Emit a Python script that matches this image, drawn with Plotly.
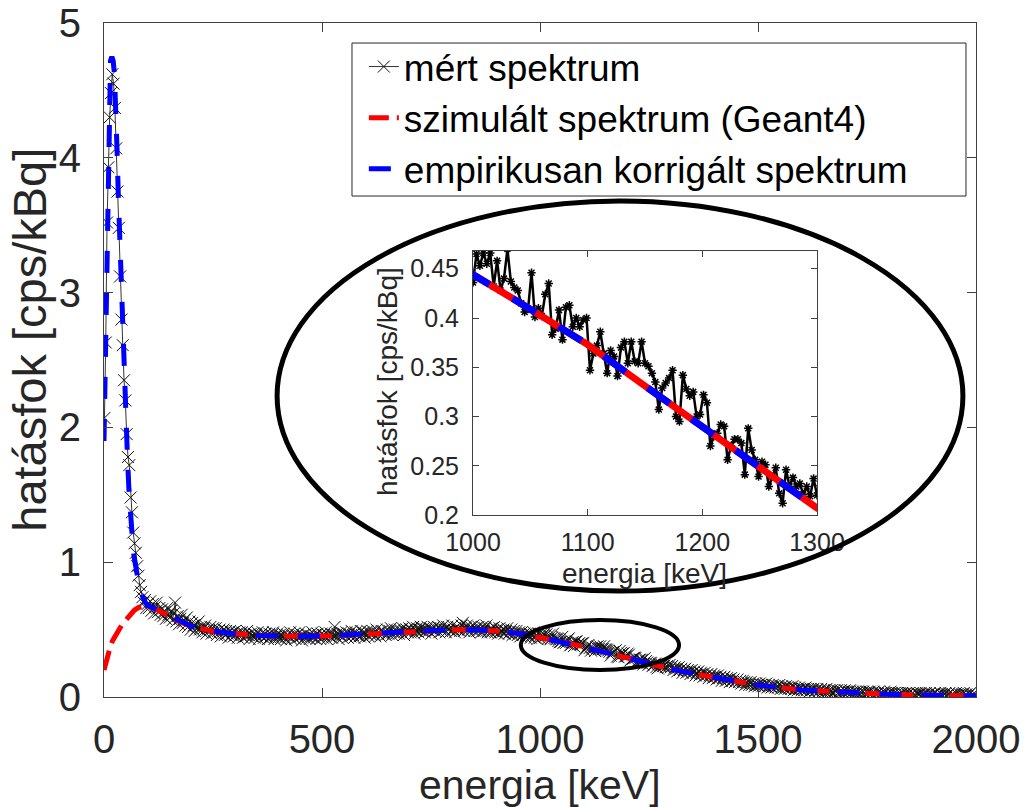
import plotly.graph_objects as go

# ---------------- data ----------------
# measured spectrum, 3 keV channels (1, 4, 7, ... 1999 keV)
measured_energy = list(range(1, 2000, 3))

measured_1_100 = [2.07, 2.63, 3.52, 3.93, 4.30, 4.48, 4.62, 4.55, 4.37, 4.07,
                  3.75, 3.48, 3.12, 2.80, 2.61, 2.35, 2.20, 1.95, 1.78, 1.72,
                  1.48, 1.37, 1.22, 1.14, 1.07, 0.97, 0.90, 0.83, 0.78, 0.74,
                  0.70, 0.72, 0.66, 0.69]

measured_103_1000 = [
    0.66, 0.71, 0.64, 0.69, 0.62, 0.67, 0.70, 0.63, 0.66, 0.61,
    0.65, 0.60, 0.63, 0.58, 0.66, 0.61, 0.59, 0.64, 0.57, 0.62,
    0.70, 0.56, 0.60, 0.54, 0.58, 0.61, 0.55, 0.57, 0.53, 0.59,
    0.52, 0.56, 0.50, 0.55, 0.53, 0.49, 0.54, 0.51, 0.56, 0.50,
    0.52, 0.48, 0.51, 0.53, 0.47, 0.50, 0.49, 0.52, 0.47, 0.51,
    0.48, 0.51, 0.46, 0.49, 0.50, 0.45, 0.48, 0.50, 0.46, 0.49,
    0.47, 0.44, 0.49, 0.46, 0.48, 0.45, 0.49, 0.47, 0.44, 0.48,
    0.46, 0.48, 0.44, 0.47, 0.45, 0.49, 0.46, 0.43, 0.47, 0.45,
    0.47, 0.44, 0.46, 0.48, 0.43, 0.46, 0.45, 0.48, 0.44, 0.47,
    0.45, 0.43, 0.47, 0.44, 0.46, 0.48, 0.43, 0.45, 0.47, 0.44,
    0.46, 0.43, 0.45, 0.47, 0.44, 0.42, 0.46, 0.45, 0.48, 0.43,
    0.45, 0.47, 0.43, 0.46, 0.44, 0.48, 0.45, 0.42, 0.46, 0.44,
    0.47, 0.44, 0.46, 0.43, 0.45, 0.48, 0.44, 0.46, 0.43, 0.47,
    0.45, 0.43, 0.47, 0.44, 0.46, 0.48, 0.43, 0.46, 0.45, 0.47,
    0.44, 0.46, 0.52, 0.45, 0.47, 0.43, 0.46, 0.48, 0.44, 0.47,
    0.46, 0.48, 0.44, 0.47, 0.45, 0.49, 0.46, 0.44, 0.48, 0.46,
    0.47, 0.45, 0.49, 0.46, 0.48, 0.44, 0.47, 0.49, 0.45, 0.48,
    0.46, 0.49, 0.47, 0.45, 0.50, 0.47, 0.48, 0.45, 0.49, 0.47,
    0.48, 0.46, 0.50, 0.47, 0.49, 0.51, 0.46, 0.48, 0.50, 0.47,
    0.49, 0.47, 0.50, 0.48, 0.51, 0.46, 0.49, 0.50, 0.48, 0.51,
    0.48, 0.50, 0.52, 0.47, 0.49, 0.51, 0.48, 0.50, 0.52, 0.49,
    0.51, 0.48, 0.50, 0.52, 0.49, 0.51, 0.47, 0.50, 0.52, 0.49,
    0.50, 0.52, 0.48, 0.51, 0.49, 0.53, 0.50, 0.48, 0.52, 0.50,
    0.51, 0.49, 0.53, 0.50, 0.48, 0.52, 0.50, 0.51, 0.49, 0.53,
    0.55, 0.49, 0.51, 0.53, 0.50, 0.48, 0.52, 0.50, 0.53, 0.49,
    0.51, 0.49, 0.52, 0.50, 0.48, 0.52, 0.49, 0.51, 0.53, 0.48,
    0.50, 0.48, 0.51, 0.49, 0.52, 0.48, 0.50, 0.47, 0.51, 0.49,
    0.48, 0.50, 0.47, 0.49, 0.51, 0.47, 0.48, 0.50, 0.46, 0.49,
    0.47, 0.49, 0.46, 0.48, 0.45, 0.48, 0.46, 0.47, 0.44, 0.47,
    0.45, 0.47, 0.44, 0.46, 0.48, 0.44, 0.46, 0.43, 0.47, 0.436]

measured_1003_1300 = [
    0.465, 0.453, 0.466, 0.455, 0.466, 0.432, 0.458, 0.428, 0.440, 0.470,
    0.437, 0.431, 0.428, 0.415, 0.406, 0.409, 0.446, 0.401, 0.410, 0.402,
    0.424, 0.435, 0.383, 0.389, 0.408, 0.378, 0.411, 0.413, 0.391, 0.400,
    0.391, 0.398, 0.400, 0.347, 0.364, 0.372, 0.386, 0.364, 0.344, 0.367,
    0.361, 0.341, 0.370, 0.376, 0.354, 0.376, 0.356, 0.354, 0.376, 0.354,
    0.351, 0.344, 0.335, 0.307, 0.329, 0.334, 0.339, 0.347, 0.300, 0.295,
    0.342, 0.328, 0.321, 0.325, 0.300, 0.302, 0.322, 0.314, 0.270, 0.280,
    0.283, 0.292, 0.290, 0.256, 0.270, 0.277, 0.277, 0.273, 0.241, 0.288,
    0.266, 0.256, 0.239, 0.254, 0.251, 0.229, 0.239, 0.248, 0.222, 0.212,
    0.246, 0.229, 0.238, 0.229, 0.232, 0.221, 0.229, 0.219, 0.237, 0.220]

measured_1303_1999 = [
    0.23, 0.20, 0.22, 0.21, 0.19, 0.22, 0.20, 0.21, 0.18, 0.20,
    0.21, 0.18, 0.20, 0.19, 0.17, 0.20, 0.18, 0.19, 0.16, 0.18,
    0.19, 0.16, 0.18, 0.17, 0.15, 0.18, 0.16, 0.17, 0.14, 0.16,
    0.17, 0.14, 0.16, 0.15, 0.13, 0.16, 0.14, 0.15, 0.12, 0.14,
    0.15, 0.12, 0.14, 0.13, 0.11, 0.14, 0.12, 0.13, 0.11, 0.12,
    0.13, 0.11, 0.12, 0.10, 0.12, 0.11, 0.09, 0.11, 0.10, 0.09,
    0.11, 0.09, 0.10, 0.08, 0.10, 0.09, 0.08, 0.10, 0.09, 0.08,
    0.09, 0.08, 0.10, 0.07, 0.09, 0.08, 0.07, 0.09, 0.08, 0.07,
    0.08, 0.07, 0.09, 0.06, 0.08, 0.07, 0.06, 0.08, 0.07, 0.06,
    0.07, 0.06, 0.08, 0.05, 0.07, 0.06, 0.05, 0.07, 0.06, 0.05,
    0.06, 0.05, 0.07, 0.05, 0.06, 0.04, 0.06, 0.05, 0.06, 0.04,
    0.05, 0.06, 0.04, 0.05, 0.06, 0.04, 0.05, 0.04, 0.06, 0.04,
    0.05, 0.04, 0.05, 0.03, 0.05, 0.04, 0.05, 0.03, 0.04, 0.05,
    0.04, 0.03, 0.05, 0.04, 0.03, 0.04, 0.05, 0.03, 0.04, 0.03,
    0.04, 0.03, 0.04, 0.02, 0.04, 0.03, 0.04, 0.03, 0.02, 0.04,
    0.03, 0.04, 0.02, 0.03, 0.04, 0.03, 0.02, 0.03, 0.04, 0.02,
    0.03, 0.02, 0.04, 0.03, 0.02, 0.03, 0.02, 0.04, 0.03, 0.02,
    0.03, 0.02, 0.03, 0.01, 0.03, 0.02, 0.03, 0.02, 0.01, 0.03,
    0.02, 0.03, 0.01, 0.02, 0.03, 0.02, 0.01, 0.03, 0.02, 0.02,
    0.03, 0.01, 0.02, 0.02, 0.03, 0.01, 0.02, 0.03, 0.01, 0.02,
    0.02, 0.03, 0.01, 0.02, 0.01, 0.03, 0.02, 0.01, 0.02, 0.03,
    0.01, 0.02, 0.03, 0.01, 0.02, 0.02, 0.01, 0.03, 0.02, 0.01,
    0.02, 0.01, 0.02, 0.03, 0.01, 0.02, 0.01, 0.02, 0.03, 0.01,
    0.02, 0.01, 0.02]

measured = measured_1_100 + measured_103_1000 + measured_1003_1300 + measured_1303_1999

# simulated spectrum (Geant4)
sim_energy = [0, 5, 10, 15, 20, 30, 40, 50, 60, 70, 80, 90, 100, 110, 120, 140,
              160, 180, 200, 225, 250, 275, 300, 350, 400, 450, 500, 550, 600,
              650, 700, 750, 800, 850, 900, 950, 1000, 1050, 1100, 1150, 1200,
              1250, 1300, 1350, 1400, 1450, 1500, 1600, 1700, 1800, 1900, 2000]
sim_values = [0.20, 0.27, 0.33, 0.38, 0.42, 0.48, 0.53, 0.57, 0.61, 0.645, 0.665,
              0.675, 0.675, 0.665, 0.65, 0.615, 0.58, 0.55, 0.525, 0.503, 0.488,
              0.476, 0.467, 0.457, 0.452, 0.450, 0.452, 0.458, 0.466, 0.476,
              0.485, 0.493, 0.498, 0.498, 0.490, 0.472, 0.444, 0.409, 0.373,
              0.331, 0.290, 0.247, 0.207, 0.175, 0.148, 0.115, 0.088, 0.052,
              0.032, 0.020, 0.013, 0.009]

# empirically corrected spectrum: low-energy part, identical to simulation above 100 keV
corr_low_energy = [0, 3, 6, 9, 12, 15, 18, 21, 24, 27, 30, 33, 36, 39, 42, 45, 48,
                   51, 54, 57, 60, 63, 66, 69, 72, 75, 78, 81, 85, 90, 95, 100]
corr_low_values = [1.90, 2.50, 3.20, 3.95, 4.50, 4.72, 4.75, 4.72, 4.62, 4.40, 4.05,
                   3.70, 3.38, 3.10, 2.85, 2.58, 2.30, 2.02, 1.76, 1.55, 1.38, 1.24,
                   1.13, 1.04, 0.97, 0.91, 0.86, 0.82, 0.77, 0.73, 0.70, 0.68]
corr_energy = corr_low_energy + sim_energy[13:]
corr_values = corr_low_values + sim_values[13:]

x_ticks = [0, 500, 1000, 1500, 2000]
y_ticks = [0, 1, 2, 3, 4, 5]
inset_x_ticks = [1000, 1100, 1200, 1300]
inset_y_ticks = [0.2, 0.25, 0.3, 0.35, 0.4, 0.45]
inset_y_labels = ["0.2", "0.25", "0.3", "0.35", "0.4", "0.45"]

FONT = "Liberation Sans, Arial, Helvetica, sans-serif"
AX = "#404040"
TXT = "#262626"

fig = go.Figure()
fig.add_trace(go.Scatter(
    x=measured_energy, y=measured, mode="lines+markers", name="mért spektrum",
    line=dict(color="#333333", width=1),
    marker=dict(symbol="x-thin", size=12, color="#111111", line=dict(color="#111111", width=1)),
    xaxis="x", yaxis="y"))
fig.add_trace(go.Scatter(
    x=sim_energy, y=sim_values, mode="lines", name="szimulált spektrum (Geant4)",
    line=dict(color="#ff0000", width=5, dash="20px,8px"), xaxis="x", yaxis="y"))
fig.add_trace(go.Scatter(
    x=corr_energy, y=corr_values, mode="lines", name="empirikusan korrigált spektrum",
    line=dict(color="#0000ff", width=5, dash="22px,20px"), xaxis="x", yaxis="y"))

# inset
fig.add_trace(go.Scatter(
    x=measured_energy, y=measured, mode="lines+markers", showlegend=False,
    line=dict(color="black", width=2.5),
    marker=dict(symbol="asterisk", size=7, color="black", line=dict(color="black", width=1.5)),
    xaxis="x2", yaxis="y2"))
fig.add_trace(go.Scatter(
    x=sim_energy, y=sim_values, mode="lines", showlegend=False,
    line=dict(color="#ff0000", width=7), xaxis="x2", yaxis="y2"))
fig.add_trace(go.Scatter(
    x=corr_energy, y=corr_values, mode="lines", showlegend=False,
    line=dict(color="#0000ff", width=7, dash="27px,27px"), xaxis="x2", yaxis="y2"))

axis_common = dict(ticks="inside", tickcolor=AX, showline=True, linecolor=AX, linewidth=1,
                   mirror="ticks", showgrid=False, zeroline=False)

fig.update_layout(
    width=1027, height=807,
    margin=dict(l=104, r=51, t=23, b=110, autoexpand=False),
    paper_bgcolor="white", plot_bgcolor="white",
    font=dict(family=FONT, color=TXT),
    xaxis=dict(domain=[0, 1], range=[0, 2000], tickvals=x_ticks, ticktext=[str(v) for v in x_ticks],
               ticklen=9, tickfont=dict(size=40, color=TXT), ticklabelstandoff=7, **axis_common),
    yaxis=dict(domain=[0, 1], range=[0, 5], tickvals=y_ticks, ticktext=[str(v) for v in y_ticks],
               ticklen=9, tickfont=dict(size=40, color=TXT), ticklabelstandoff=14, **axis_common),
    xaxis2=dict(domain=[0.4232, 0.8177], anchor="y2", range=[1000, 1300], tickvals=inset_x_ticks,
                ticktext=[str(v) for v in inset_x_ticks], ticklen=6,
                tickfont=dict(size=25, color=TXT), ticklabelstandoff=5, **axis_common),
    yaxis2=dict(domain=[0.2700, 0.6617], anchor="x2", range=[0.2, 0.468], tickvals=inset_y_ticks,
                ticktext=inset_y_labels, ticklen=6,
                tickfont=dict(size=25, color=TXT), ticklabelstandoff=8, **axis_common),
    legend=dict(x=0.298, xanchor="left", y=0.9807, yanchor="top", bgcolor="rgba(0,0,0,0)",
                borderwidth=0, font=dict(size=37, color="black", family=FONT),
                tracegroupgap=0, itemwidth=30),
    showlegend=True,
    annotations=[
        dict(text="energia [keV]", xref="paper", yref="paper", x=0.5, y=-0.1306,
             xanchor="center", yanchor="middle", showarrow=False, font=dict(size=41, color=TXT)),
        dict(text="hatásfok [cps/kBq]", xref="paper", yref="paper", x=-0.0849, y=0.530,
             xanchor="center", yanchor="middle", textangle=-90, showarrow=False,
             font=dict(size=47, color=TXT)),
        dict(text="energia [keV]", xref="paper", yref="paper", x=0.6193, y=0.1825,
             xanchor="center", yanchor="middle", showarrow=False, font=dict(size=28, color=TXT)),
        dict(text="hatásfok [cps/kBq]", xref="paper", yref="paper", x=0.3257, y=0.4674,
             xanchor="center", yanchor="middle", textangle=-90, showarrow=False,
             font=dict(size=28, color=TXT)),
    ],
    shapes=[
        dict(type="rect", xref="paper", yref="paper", x0=0.2844, x1=0.9885, y0=0.7433, y1=0.9703,
             line=dict(color=TXT, width=1), fillcolor="white", layer="below"),
        dict(type="circle", xref="x", yref="y", x0=397, x1=1970, y0=0.786, y1=3.68,
             line=dict(color="black", width=5), layer="above"),
        dict(type="circle", xref="x", yref="y", x0=956, x1=1319, y0=0.200, y1=0.571,
             line=dict(color="black", width=4), layer="above"),
    ],
)

fig.write_html("out.html")
